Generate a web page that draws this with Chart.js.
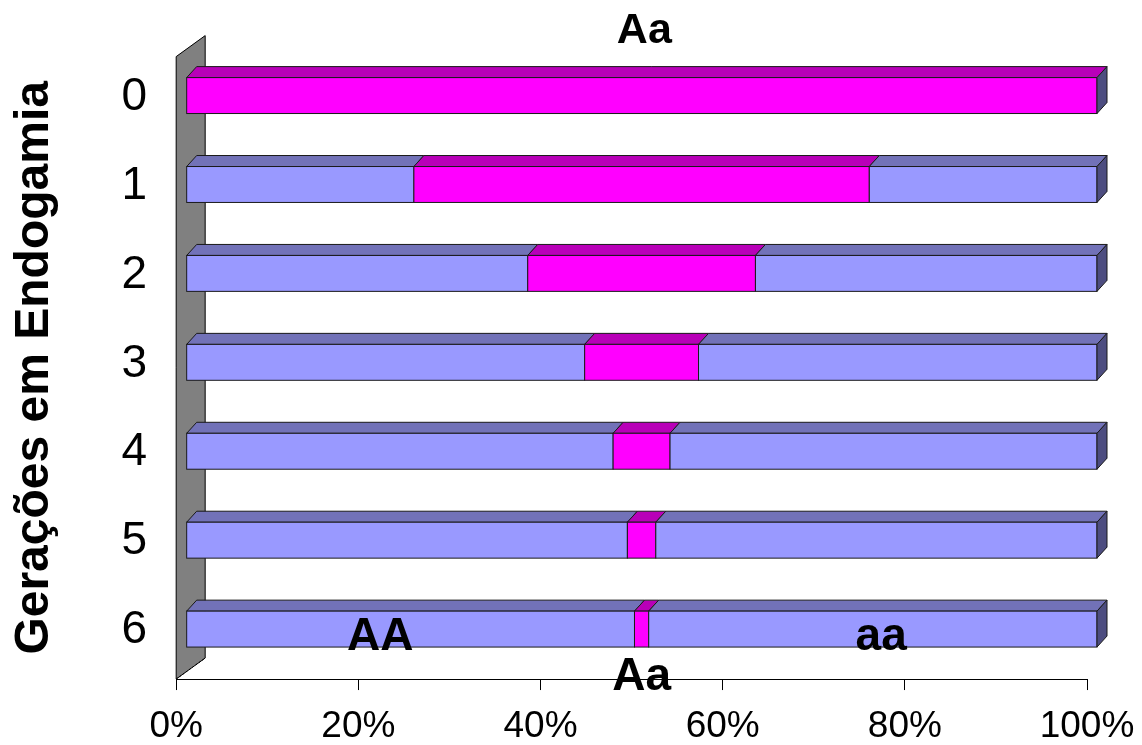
<!DOCTYPE html>
<html>
<head>
<meta charset="utf-8">
<title>Gerações em Endogamia</title>
<script src="https://cdn.jsdelivr.net/npm/chart.js@4.4.1/dist/chart.umd.min.js"></script>
<style>
  body { margin: 0; background: #fff; }
  canvas { display: block; }
</style>
</head>
<body>
<canvas id="myChart" width="1142" height="745"></canvas>
<script>
`use strict`

//Generations on the y axis
const generations = ['0', '1', '2', '3', '4', '5', '6'];
//Share of each genotype in %
const valuesAA = [0, 25, 37.5, 43.75, 46.875, 48.44, 49.22];
const valuesAa = [100, 50, 25, 12.5, 6.25, 3.12, 1.56];
const valuesaa = [0, 25, 37.5, 43.75, 46.875, 48.44, 49.22];
//Tick values on the x axis
const xTicks = [0, 20, 40, 60, 80, 100];

//Colours for front, top and side of each series
const faceColors = ['#9999FF', '#FF00FF', '#9999FF'];
const topColors = ['#7272B8', '#B800B8', '#7272B8'];
const sideColors = ['#4D4D80', '#800080', '#4D4D80'];

//Fake 3d look
const front = {dx: 10, dy: -5.5};
const depth = {dx: 10, dy: -11};
const wallDepth = {dx: 29, dy: -21};

//Text written on the chart: text, row, x value, baseline shift, size
const annText = ['Aa', 'AA', 'Aa', 'aa'];
const annRow = [0, 6, 6, 6];
const annValue = [50.3, 21.3, 50, 76.3];
const annShift = [-57.6, 15.6, 55.6, 15.6];
const annSize = [43, 46, 46, 46];

const bars3d = {
  id: 'bars3d',
  beforeDatasetsDraw(chart) {
    const ctx = chart.ctx;
    const area = chart.chartArea;
    ctx.save();
    ctx.lineWidth = 1;

    //grey back wall
    ctx.fillStyle = '#808080';
    ctx.strokeStyle = '#000';
    ctx.beginPath();
    ctx.moveTo(area.left, area.top);
    ctx.lineTo(area.left + wallDepth.dx, area.top + wallDepth.dy);
    ctx.lineTo(area.left + wallDepth.dx, area.bottom + wallDepth.dy);
    ctx.lineTo(area.left, area.bottom);
    ctx.closePath();
    ctx.fill();
    ctx.stroke();
    ctx.setLineDash([2, 2]);
    ctx.beginPath();
    ctx.moveTo(area.left, area.bottom);
    ctx.lineTo(area.left + wallDepth.dx, area.bottom + wallDepth.dy);
    ctx.stroke();
    ctx.setLineDash([]);

    const metas = chart.data.datasets.map((d, i) => chart.getDatasetMeta(i));
    ctx.strokeStyle = '#1a1a1a';
    generations.forEach((g, row) => {
      let end = 0, top = 0, bot = 0, last = 2;
      metas.forEach((meta, d) => {
        const p = meta.data[row].getProps(['x', 'y', 'base', 'height'], true);
        const x0 = p.base + front.dx;
        const x1 = p.x + front.dx;
        top = p.y - p.height / 2 + front.dy;
        bot = p.y + p.height / 2 + front.dy;
        end = x1;
        if (x1 - x0 < 0.5) return;
        //top face
        ctx.fillStyle = topColors[d];
        ctx.beginPath();
        ctx.moveTo(x0, top);
        ctx.lineTo(x0 + depth.dx, top + depth.dy);
        ctx.lineTo(x1 + depth.dx, top + depth.dy);
        ctx.lineTo(x1, top);
        ctx.closePath();
        ctx.fill();
        ctx.stroke();
        //front face
        ctx.fillStyle = faceColors[d];
        ctx.fillRect(x0, top, x1 - x0, bot - top);
        ctx.strokeRect(x0, top, x1 - x0, bot - top);
      });
      //side face at the end of the bar
      ctx.fillStyle = sideColors[last];
      ctx.beginPath();
      ctx.moveTo(end, top);
      ctx.lineTo(end + depth.dx, top + depth.dy);
      ctx.lineTo(end + depth.dx, bot + depth.dy);
      ctx.lineTo(end, bot);
      ctx.closePath();
      ctx.fill();
      ctx.stroke();
    });
    ctx.restore();
    return false;
  },
  afterDraw(chart) {
    const ctx = chart.ctx;
    const xs = chart.scales.x;
    const meta = chart.getDatasetMeta(0);
    ctx.save();
    ctx.fillStyle = '#000';
    ctx.textAlign = 'center';
    ctx.textBaseline = 'alphabetic';
    annText.forEach((t, i) => {
      const y = meta.data[annRow[i]].getProps(['y'], true).y;
      ctx.font = 'bold ' + annSize[i] + 'px "Liberation Sans", Arial, sans-serif';
      ctx.fillText(t, xs.getPixelForValue(annValue[i]) + front.dx, y + annShift[i]);
    });
    ctx.restore();
  }
};

function drawChart() {
  const ctx = document.getElementById('myChart').getContext('2d');
  const myChart = new Chart(ctx, {
    type: 'bar',
    data: {
      labels: generations,
      datasets: [
        {label: 'AA', data: valuesAA, backgroundColor: faceColors[0]},
        {label: 'Aa', data: valuesAa, backgroundColor: faceColors[1]},
        {label: 'aa', data: valuesaa, backgroundColor: faceColors[2]}
      ]
    },
    options: {
      indexAxis: 'y',
      responsive: false,
      animation: false,
      devicePixelRatio: 1,
      categoryPercentage: 1,
      barPercentage: 0.404,
      layout: {padding: {left: 0, right: 55, top: 55, bottom: -19}},
      plugins: {
        legend: {display: false},
        tooltip: {enabled: false}
      },
      scales: {
        x: {
          type: 'linear',
          stacked: true,
          min: 0,
          max: 100,
          afterBuildTicks: axis => { axis.ticks = xTicks.map(v => ({value: v})); },
          grid: {drawOnChartArea: false, drawTicks: true, tickLength: 11, color: '#000'},
          border: {display: true, color: '#000', width: 1},
          ticks: {
            color: '#000',
            padding: 7,
            font: {family: '"Liberation Sans", Arial, sans-serif', size: 37, lineHeight: 1.62}
          }
        },
        y: {
          stacked: true,
          grid: {display: false, drawTicks: false},
          border: {display: false},
          ticks: {
            color: '#000',
            padding: 29,
            labelOffset: -4,
            font: {family: '"Liberation Sans", Arial, sans-serif', size: 46}
          },
          title: {
            display: true,
            text: 'Gerações em Endogamia',
            color: '#000',
            padding: {top: 6, bottom: 29},
            font: {family: '"Liberation Sans", Arial, sans-serif', size: 48, weight: 'bold'}
          }
        }
      }
    },
    plugins: [bars3d]
  });
  myChart.options.scales.x.ticks.callback = v => v + '%';
  myChart.update();
}

//Run chart function
drawChart();
</script>
</body>
</html>
